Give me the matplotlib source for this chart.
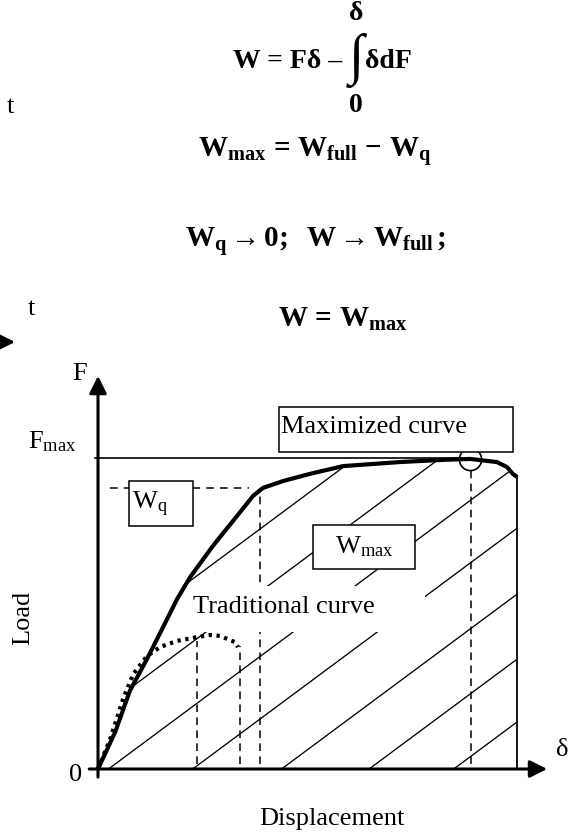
import matplotlib
matplotlib.use('Agg')
import matplotlib.pyplot as plt
import matplotlib.patches as patches
import matplotlib.transforms as mtransforms
import numpy as np

# --- fonts: Times-like serif everywhere ---
plt.rcParams['font.family'] = ['Liberation Serif', 'DejaVu Serif']
plt.rcParams['mathtext.fontset'] = 'custom'
plt.rcParams['mathtext.rm'] = 'Liberation Serif'
plt.rcParams['mathtext.it'] = 'Liberation Serif:italic'
plt.rcParams['mathtext.bf'] = 'Liberation Serif:bold'

# --- data (displacement / end displacement, load / F_max) ---
max_disp = [0, 0.041, 0.076, 0.117, 0.153, 0.189, 0.220, 0.274, 0.332, 0.370, 0.394,
            0.442, 0.506, 0.585, 0.721, 0.823, 0.888, 0.952, 0.976, 0.990, 1.0]
max_load = [0, 0.119, 0.251, 0.354, 0.450, 0.547, 0.617, 0.717, 0.814, 0.878, 0.904,
            0.926, 0.949, 0.974, 0.987, 0.994, 0.997, 0.987, 0.971, 0.949, 0.939]

trad_disp = [0, 0.029, 0.060, 0.084, 0.117, 0.148, 0.189, 0.236, 0.267, 0.291, 0.327, 0.334]
trad_load = [0, 0.096, 0.225, 0.305, 0.363, 0.392, 0.412, 0.424, 0.431, 0.428, 0.408, 0.392]

knee_disp, knee_load = 0.387, 0.904
peak_disp, peak_load = 0.888, 0.997
f_max = 1.0

drop_disp = [0.236, 0.339, 0.387, 0.890]
drop_top = [0.410, 0.395, 0.904, 0.962]

hatch_offsets = [-0.385, -0.183, 0.025, 0.226, 0.438, 0.647, 0.849]

W, H = 581, 837
fig = plt.figure(figsize=(W / 100, H / 100), dpi=100)
fig.patch.set_facecolor('white')
ax = fig.add_axes([0, 0, 1, 1])
ax.set_xlim(-98 / 419, (W - 98) / 419)
ax.set_ylim(-(H - 770) / 311, 770 / 311)
ax.axis('off')

# pixel (top-down) transform for the annotation layout
pix = mtransforms.Affine2D().scale(1 / W, -1 / H).translate(0, 1) + fig.transFigure

# --- axes with arrows ---
arrow = dict(arrowstyle='-|>', lw=2.2, color='k', mutation_scale=26, shrinkA=0, shrinkB=0)
ax.annotate('', xy=(1.072, 0), xytext=(-0.021, 0), arrowprops=arrow, zorder=6)
ax.annotate('', xy=(0, 1.264), xytext=(0, -0.026), arrowprops=arrow, zorder=6)
ax.annotate('', xy=(15, 343), xytext=(-40, 343), xycoords=pix, textcoords=pix,
            arrowprops=arrow)

# --- hatch under the maximised curve ---
region = list(zip(max_disp, max_load)) + [(max_disp[-1], 0), (0, 0)]
clip = patches.Polygon(region, closed=True, facecolor='none', edgecolor='none')
ax.add_patch(clip)
for c in hatch_offsets:
    xs = np.array([c, 1.2])
    ln, = ax.plot(xs, xs - c, color='k', lw=0.95, zorder=1)
    ln.set_clip_path(clip)

# --- reference lines ---
ax.plot([-0.007, peak_disp], [f_max, f_max], color='k', lw=1.2, zorder=2)
ax.plot([max_disp[-1], max_disp[-1]], [0, max_load[-1]], color='k', lw=1.3, zorder=2)
ax.plot([0.029, 0.36], [knee_load, knee_load], color='k', lw=1.1,
        linestyle=(0, (5, 4)), zorder=2)
for d, t in zip(drop_disp, drop_top):
    ax.plot([d, d], [0.015, t], color='k', lw=1.1, linestyle=(0, (5, 3.5)), zorder=2)

# white area behind "Traditional curve"
ax.add_patch(patches.Rectangle((190, 633), 235, -46, transform=pix,
                               facecolor='white', edgecolor='none', zorder=2.5))

# --- curves ---
ax.plot(max_disp, max_load, color='k', lw=3.0, solid_capstyle='butt',
        solid_joinstyle='round', zorder=3)
ax.plot(trad_disp, trad_load, color='k', lw=3.0, linestyle=(0, (0.8, 1.1)), zorder=3)
ax.plot(peak_disp, peak_load, 'o', ms=16, mfc='none', mec='k', mew=1.2, zorder=4)

# --- labelled boxes ---
for (x0, y0, x1, y1) in [(129, 482, 193, 527), (313, 526, 415, 570), (279, 408, 513, 453)]:
    ax.add_patch(patches.Rectangle((x0, y1), x1 - x0, y0 - y1, transform=pix,
                                   facecolor='white', edgecolor='k', lw=1.1, zorder=4))

fs = 19
ax.text(132, 509, r'$\mathrm{W_q}$', transform=pix, fontsize=fs, va='baseline', zorder=5)
ax.text(364, 553, r'$\mathrm{W_{max}}$', transform=pix, fontsize=fs, ha='center',
        va='baseline', zorder=5)
ax.text(281, 433, 'Maximized curve', transform=pix, fontsize=fs, va='baseline', zorder=5)
ax.text(193, 613, 'Traditional curve', transform=pix, fontsize=fs, va='baseline', zorder=5)

# axis labels
ax.text(28, 448, r'$\mathrm{F_{max}}$', transform=pix, fontsize=fs, va='baseline')
ax.text(72, 380, 'F', transform=pix, fontsize=fs, va='baseline')
ax.text(76, 775, '0', transform=pix, fontsize=fs, ha='center', va='center')
ax.text(562, 750, 'δ', transform=pix, fontsize=fs, ha='center', va='center')
ax.text(23, 618, 'Load', transform=pix, fontsize=fs, rotation=90, ha='center', va='center')
ax.text(332, 825, 'Displacement', transform=pix, fontsize=fs, ha='center', va='baseline')
ax.text(7, 113, 't', transform=pix, fontsize=fs, va='baseline')
ax.text(28, 315, 't', transform=pix, fontsize=fs, va='baseline')

# --- equations ---
efs = 21
ax.text(233, 68, 'W = Fδ –', transform=pix, fontsize=20, fontweight='bold', va='baseline')
ax.text(356, 60, '∫', transform=pix, fontsize=40, ha='center', va='center')
ax.text(356, 14, 'δ', transform=pix, fontsize=20, fontweight='bold', ha='center', va='center')
ax.text(356, 105, '0', transform=pix, fontsize=20, fontweight='bold', ha='center', va='center')
ax.text(365, 68, 'δdF', transform=pix, fontsize=20, fontweight='bold', va='baseline')
ax.text(198, 157, r'$\mathbf{W_{max}\,=\,W_{full}\,-\,W_q}$', transform=pix, fontsize=efs,
        va='baseline')
ax.text(185, 247, r'$\mathbf{W_q \rightarrow 0;\ \ W \rightarrow W_{full}\,;}$',
        transform=pix, fontsize=efs, va='baseline')
ax.text(278, 327, r'$\mathbf{W\,=\,W_{max}}$', transform=pix, fontsize=efs, va='baseline')

fig.savefig('out.png', dpi=100)
